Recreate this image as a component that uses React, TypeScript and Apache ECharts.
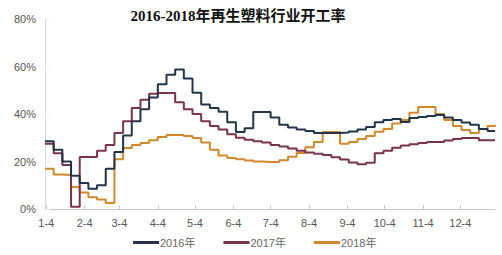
import React, { useEffect, useRef } from "react";
import * as echarts from "echarts";

const titleText = "2016-2018年再生塑料行业开工率";
const seriesNames = ["2016年", "2017年", "2018年"];
const xTickDays = [4, 35, 63, 94, 124, 155, 185, 216, 247, 277, 308, 338];
const xTickLabels = ["1-4", "2-4", "3-4", "4-4", "5-4", "6-4", "7-4", "8-4", "9-4", "10-4", "11-4", "12-4"];
const days = [3, 10, 17, 24, 31, 38, 45, 52, 59, 66, 73, 80, 87, 94, 101, 108, 115, 122, 129, 136, 143, 150, 157, 164, 171, 178, 185, 192, 199, 206, 213, 220, 227, 234, 241, 248, 255, 262, 269, 276, 283, 290, 297, 304, 311, 318, 325, 332, 339, 346, 353, 360, 366];
const yTicks = [0, 20, 40, 60, 80];

const rate2016 = [28.5, 25, 20, 14, 11, 8.5, 10, 17, 24, 31, 37, 42, 47, 52.5, 56.5, 58.7, 55, 49, 44, 42.5, 41, 36.5, 32.4, 34, 40.8, 40.8, 38.5, 35.5, 34.3, 33.5, 32.8, 32, 32, 32, 32.2, 32.6, 33.5, 34.5, 36.5, 37.5, 37.9, 36.6, 38.3, 38.7, 39.2, 39.6, 38.5, 37.5, 36.4, 35.5, 33.7, 32.8, 32.8];
const rate2017 = [27.5, 23.5, 18.5, 1, 21.9, 21.9, 24.5, 27, 32, 37, 42.5, 46, 48.5, 48.8, 48.8, 45, 42, 40, 37, 35, 33.5, 31.5, 30, 29.2, 28.5, 28, 27, 26.3, 25.5, 24.5, 23.8, 23.3, 22.7, 21.8, 20.8, 19.6, 18.8, 19.5, 23.5, 24.5, 25.8, 26.7, 27.3, 27.8, 28.2, 28.2, 28.8, 29.5, 29.9, 29.9, 29, 29, 29];
const rate2018 = [17, 14.5, 14.3, 9.3, 7, 5, 4, 2.5, 21, 25.7, 27, 27.8, 29, 30.3, 31.2, 31.2, 30.7, 29.9, 28, 25, 22.5, 21.5, 21, 20.4, 20, 19.8, 19.8, 20.5, 22, 23.6, 26, 28.2, 32.4, 32.4, 27.5, 28.2, 29.5, 30.7, 32.5, 33.7, 36, 37.5, 40.5, 42.9, 42.9, 40, 37.5, 35, 33.3, 32, 33.7, 35, 35.5];

const colors = ["#23344a", "#7a3447", "#d0882c"];

export default function App() {
  const ref = useRef<HTMLDivElement>(null);
  useEffect(() => {
    document.body.style.margin = "0";
    const chart = echarts.init(ref.current!, undefined, { renderer: "svg" });
    const allRates = [rate2016, rate2017, rate2018];
    chart.setOption({
      animation: false,
      backgroundColor: "#ffffff",
      title: {
        text: titleText,
        left: 233,
        textAlign: "center",
        top: 3,
        textStyle: {
          fontFamily: "'Liberation Serif', 'Noto Sans CJK SC', serif",
          fontWeight: "bold",
          fontSize: 15,
          color: "#111111",
        },
      },
      legend: {
        bottom: 2,
        left: 128,
        icon: "rect",
        itemWidth: 26,
        itemHeight: 3,
        itemGap: 28,
        data: seriesNames,
        textStyle: {
          color: "#666666",
          fontSize: 11,
          fontFamily: "'Liberation Sans', 'Noto Sans CJK SC', sans-serif",
          padding: [0, 0, 0, -4],
        },
      },
      grid: { left: 45, right: 7, top: 19, bottom: 46, containLabel: false, outerBoundsMode: "none" },
      xAxis: {
        type: "value",
        min: 3,
        max: 366,
        axisLine: { show: true, lineStyle: { color: "#c8c8c8", width: 1 } },
        axisTick: { show: true, inside: true, length: 4, customValues: xTickDays, lineStyle: { color: "#c8c8c8" } },
        axisLabel: {
          customValues: xTickDays,
          formatter: (v: number) => xTickLabels[xTickDays.indexOf(v)] ?? "",
          color: "#555555",
          fontSize: 11,
          margin: 8,
          fontFamily: "'Liberation Sans', sans-serif",
        },
        splitLine: { show: false },
      },
      yAxis: {
        type: "value",
        min: yTicks[0],
        max: yTicks[yTicks.length - 1],
        interval: 20,
        axisLine: { show: true, lineStyle: { color: "#d8d8d8", width: 1 } },
        axisTick: { show: true, inside: true, length: 5, lineStyle: { color: "#eeeeee" } },
        axisLabel: {
          formatter: "{value}%",
          color: "#555555",
          fontSize: 11,
          margin: 9,
          fontFamily: "'Liberation Sans', sans-serif",
        },
        splitLine: { show: false },
      },
      series: seriesNames.map((name, i) => ({
        name,
        type: "line",
        step: "end",
        symbol: "none",
        data: days.map((d, j) => [d, allRates[i][j]]),
        lineStyle: { color: colors[i], width: 2 },
        itemStyle: { color: colors[i] },
        z: 3 - i,
      })),
    });
    return () => chart.dispose();
  }, []);
  return <div ref={ref} style={{ width: 502, height: 255 }} />;
}
